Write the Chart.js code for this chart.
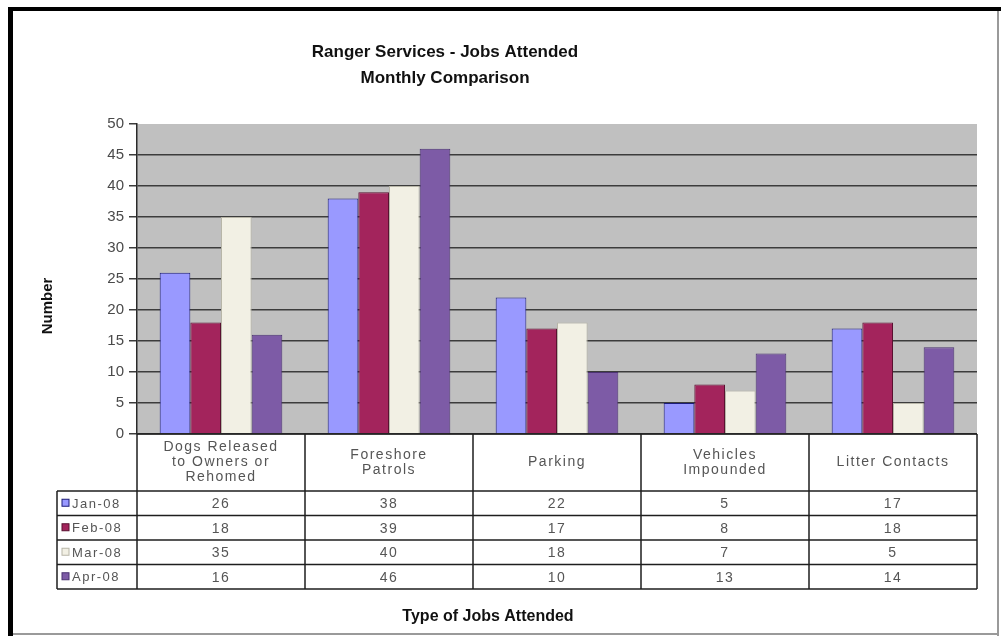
<!DOCTYPE html>
<html>
<head>
<meta charset="utf-8">
<script src="https://cdn.jsdelivr.net/npm/chart.js@4.4.1/dist/chart.umd.min.js"></script>
<style>
  html, body { margin: 0; padding: 0; background: #fff; }
  canvas { display: block; }
</style>
</head>
<body>
<canvas id="chart" width="1001" height="636"></canvas>
<script>
// jobs attended per month, by job type
const months = ['Jan-08', 'Feb-08', 'Mar-08', 'Apr-08'];
const jobTypes = [
  ['Dogs Released', 'to Owners or', 'Rehomed'],
  ['Foreshore', 'Patrols'],
  ['Parking'],
  ['Vehicles', 'Impounded'],
  ['Litter Contacts']
];
const jan08 = [26, 38, 22, 5, 17];
const feb08 = [18, 39, 17, 8, 18];
const mar08 = [35, 40, 18, 7, 5];
const apr08 = [16, 46, 10, 13, 14];
const yMin = 0, yMax = 50, yStep = 5;

const fills = ['#9999ff', '#a3245c', '#f2f0e4', '#7d5ba6'];
const edges = ['#1c1c7a', '#5a1030', '#b8b6a8', '#4a3270'];
const FONT = "'Liberation Sans', Arial, sans-serif";

function line(ctx, x1, y1, x2, y2) {
  ctx.beginPath();
  ctx.moveTo(x1, y1);
  ctx.lineTo(x2, y2);
  ctx.stroke();
}

// frame, grey plot area, titles and the data table under the plot
const sheetPlugin = {
  id: 'sheet',
  beforeDraw(chart) {
    const { ctx, width, height, chartArea: a } = chart;
    ctx.save();
    ctx.fillStyle = '#fff';
    ctx.fillRect(0, 0, width, height);
    ctx.fillStyle = '#000';
    ctx.fillRect(8, 7, width - 8, 4);
    ctx.fillRect(8, 7, 5, height - 7);
    ctx.fillStyle = '#9a9a9a';
    ctx.fillRect(997, 11, 2, height - 11);
    ctx.fillRect(13, 633, 986, 2);
    ctx.fillStyle = '#c0c0c0';
    ctx.fillRect(a.left, a.top, a.right - a.left, a.bottom - a.top);
    ctx.restore();
  },
  afterDraw(chart) {
    const { ctx, chartArea: a, scales: { x } } = chart;
    const n = jobTypes.length;
    const colW = (a.right - a.left) / n;
    const top = a.bottom;
    const headBottom = top + 57;
    const rowH = 24.5;
    const rowsLeft = 57;
    const tableBottom = headBottom + rowH * months.length;

    ctx.save();
    ctx.strokeStyle = '#1e1e1e';
    ctx.lineWidth = 1.5;
    line(ctx, a.left, top, a.right, top);
    for (let i = 0; i <= n; i++) {
      const px = a.left + colW * i;
      line(ctx, px, top, px, tableBottom);
    }
    line(ctx, rowsLeft, headBottom, rowsLeft, tableBottom);
    for (let r = 0; r <= months.length; r++) {
      const py = headBottom + rowH * r;
      line(ctx, rowsLeft, py, a.right, py);
    }

    ctx.fillStyle = '#555';
    ctx.font = '14px ' + FONT;
    ctx.letterSpacing = '1.5px';
    ctx.textAlign = 'center';
    ctx.textBaseline = 'middle';
    jobTypes.forEach((lines, i) => {
      const cx = x.getPixelForValue(i);
      const lh = 15;
      const y0 = (top + headBottom) / 2 - (lines.length - 1) * lh / 2;
      lines.forEach((t, k) => ctx.fillText(t, cx, y0 + k * lh));
    });

    chart.data.datasets.forEach((ds, r) => {
      const cy = headBottom + rowH * (r + 0.5);
      ctx.fillStyle = ds.backgroundColor;
      ctx.fillRect(62, cy - 4, 7, 7);
      ctx.strokeStyle = ds.borderColor;
      ctx.lineWidth = 1;
      ctx.strokeRect(62, cy - 4, 7, 7);
      ctx.fillStyle = '#555';
      ctx.textAlign = 'left';
      ctx.font = '13px ' + FONT;
      ctx.fillText(ds.label, 72, cy + 1);
      ctx.textAlign = 'center';
      ctx.font = '14px ' + FONT;
      ds.data.forEach((v, i) => ctx.fillText(String(v), x.getPixelForValue(i), cy + 1));
    });

    // chart title and axis titles
    ctx.letterSpacing = '0px';
    ctx.fillStyle = '#111';
    ctx.font = 'bold 17px ' + FONT;
    ctx.fillText('Ranger Services - Jobs Attended', 445, 52);
    ctx.fillText('Monthly Comparison', 445, 78);
    ctx.font = 'bold 16px ' + FONT;
    ctx.fillText('Type of Jobs Attended', 488, 617);
    ctx.translate(48, 306);
    ctx.rotate(-Math.PI / 2);
    ctx.font = 'bold 15px ' + FONT;
    ctx.fillText('Number', 0, 0);
    ctx.restore();
  }
};

const seriesValues = [jan08, feb08, mar08, apr08];

new Chart(document.getElementById('chart'), {
  type: 'bar',
  data: {
    labels: jobTypes,
    datasets: months.map((m, i) => ({
      label: m,
      data: seriesValues[i],
      backgroundColor: fills[i],
      borderColor: edges[i],
      borderWidth: 1,
      categoryPercentage: 0.73,
      barPercentage: 1.0
    }))
  },
  options: {
    responsive: false,
    animation: false,
    layout: { padding: { left: 77, right: 24, top: 124, bottom: 202 } },
    plugins: {
      legend: { display: false },
      title: { display: false },
      tooltip: { enabled: false }
    },
    scales: {
      x: {
        ticks: { display: false },
        grid: { display: false },
        border: { display: false },
        afterFit: s => { s.height = 0; }
      },
      y: {
        min: yMin,
        max: yMax,
        ticks: {
          stepSize: yStep,
          padding: 5,
          color: '#4a4a4a',
          font: { family: FONT, size: 15 }
        },
        grid: {
          color: c => (c.tick && c.tick.value === yMax) ? 'rgba(0,0,0,0)' : '#3c3c3c',
          tickColor: '#3c3c3c',
          lineWidth: 1.5,
          tickLength: 8
        },
        border: { display: true, color: '#2a2a2a', width: 1.5 },
        afterFit: s => { s.width = 60; }
      }
    }
  },
  plugins: [sheetPlugin]
});
</script>
</body>
</html>
